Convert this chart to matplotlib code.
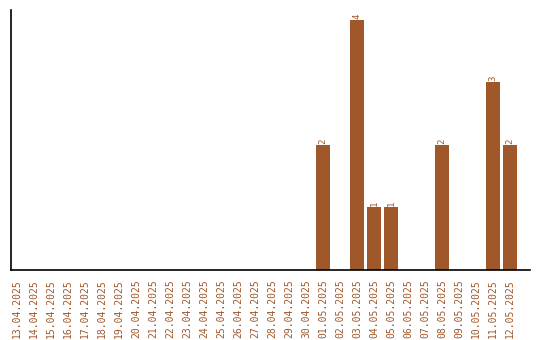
import matplotlib
matplotlib.use("Agg")
import matplotlib.pyplot as plt

dates = ["13.04.2025", "14.04.2025", "15.04.2025", "16.04.2025", "17.04.2025",
         "18.04.2025", "19.04.2025", "20.04.2025", "21.04.2025", "22.04.2025",
         "23.04.2025", "24.04.2025", "25.04.2025", "26.04.2025", "27.04.2025",
         "28.04.2025", "29.04.2025", "30.04.2025", "01.05.2025", "02.05.2025",
         "03.05.2025", "04.05.2025", "05.05.2025", "06.05.2025", "07.05.2025",
         "08.05.2025", "09.05.2025", "10.05.2025", "11.05.2025", "12.05.2025"]
counts = [0, 0, 0, 0, 0, 0, 0, 0, 0, 0, 0, 0, 0, 0, 0, 0, 0, 0,
          2, 0, 4, 1, 1, 0, 0, 2, 0, 0, 3, 2]

color = "#a0572a"

fig = plt.figure(figsize=(5.4, 3.4), dpi=100)
ax = fig.add_axes([0.0204, 0.206, 0.961, 0.765])

x = list(range(len(dates)))
ax.bar(x, counts, width=0.82, color=color)

for xi, c in zip(x, counts):
    if c > 0:
        ax.text(xi, c + 0.02, str(c), rotation=90, ha="center", va="bottom",
                color=color, fontsize=6.5, family="DejaVu Sans Mono")

ax.set_xticks(x)
ax.set_xticklabels(dates, rotation=90, fontsize=7, color=color,
                   family="DejaVu Sans Mono")
ax.set_yticks([])
ax.tick_params(axis="x", length=0, pad=7)
ax.set_xlim(-0.35, 30.18)
ax.set_ylim(0, 4.16)
ax.spines["top"].set_visible(False)
ax.spines["right"].set_visible(False)
ax.spines["left"].set_linewidth(1.2)
ax.spines["bottom"].set_linewidth(1.2)

fig.savefig("out.png", dpi=100)
